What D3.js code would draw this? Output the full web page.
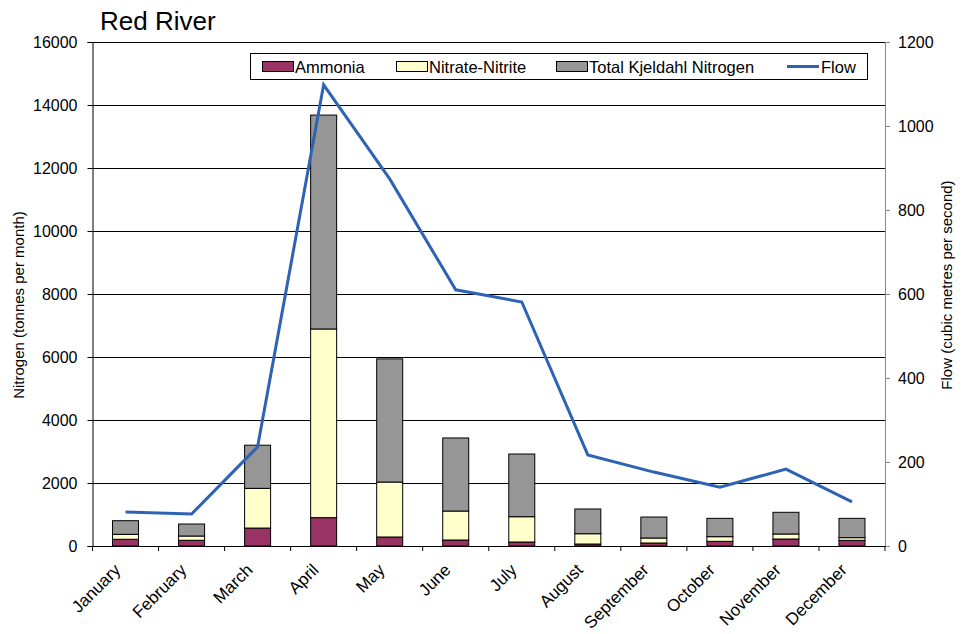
<!DOCTYPE html>
<html><head><meta charset="utf-8">
<script src="https://cdn.jsdelivr.net/npm/d3@7"></script>
<style>body{margin:0;background:#fff}svg{display:block;font-family:"Liberation Sans",Arial,sans-serif}</style>
</head><body><svg id="c" width="962" height="634"></svg>
<script>
const months = ["January","February","March","April","May","June","July","August","September","October","November","December"];
const ammonia = [213,181,570,900,286,190,127,63,95,148,222,180];
const nitrate = [158,136,1260,5990,1744,920,803,327,159,148,159,85];
const tkn = [432,381,1370,6790,3910,2320,1990,785,666,582,689,613];
const flow = [81,76,236,1098,874,610,581,217,176,140,183,105];
const leftTicks = [0,2000,4000,6000,8000,10000,12000,14000,16000];
const rightTicks = [0,200,400,600,800,1000,1200];
const seriesNames = ["Ammonia","Nitrate-Nitrite","Total Kjeldahl Nitrogen"];
const colors = ["#993366","#FFFFCC","#969696"];

const svg = d3.select("#c");
const L = 92.5, R = 885, T = 42, B = 546;
const x = d3.scaleBand().domain(months).range([L, R]);
const y = d3.scaleLinear().domain([0,16000]).range([B, T]);
const y2 = d3.scaleLinear().domain([0,1200]).range([B, T]);

// gridlines
svg.append("g").selectAll("line").data(leftTicks.slice(1)).join("line")
  .attr("x1", L).attr("x2", R).attr("y1", d => Math.round(y(d))+0.5).attr("y2", d => Math.round(y(d))+0.5)
  .attr("stroke", "#000").attr("stroke-width", 1);

// stacked bars
const rows = months.map((m,i)=>({m, a:ammonia[i], n:nitrate[i], t:tkn[i]}));
const stack = d3.stack().keys(["a","n","t"])(rows);
const bw = 26;
svg.append("g").selectAll("g").data(stack).join("g")
  .attr("fill", (d,i)=>colors[i])
  .selectAll("rect").data(d=>d).join("rect")
  .attr("x", d => x(d.data.m) + x.bandwidth()/2 - bw/2)
  .attr("width", bw)
  .attr("y", d => y(d[1]))
  .attr("height", d => y(d[0]) - y(d[1]))
  .attr("stroke", "#000").attr("stroke-width", 1);

// left axis
const ga = svg.append("g").attr("transform", `translate(${L},0)`)
  .call(d3.axisLeft(y).tickValues(leftTicks).tickSize(5).tickPadding(10).tickFormat(d3.format("d")));
ga.select(".domain").attr("stroke","#000");
ga.selectAll("text").attr("font-size", 16).attr("fill","#000").attr("font-family","Liberation Sans, Arial, sans-serif");

// right axis
const gr = svg.append("g").attr("transform", `translate(${R},0)`)
  .call(d3.axisRight(y2).tickValues(rightTicks).tickSize(5).tickPadding(8).tickFormat(d3.format("d")));
gr.select(".domain").attr("stroke","#888");
gr.selectAll(".tick line").attr("stroke","#888");
gr.selectAll("text").attr("font-size", 16).attr("fill","#000").attr("font-family","Liberation Sans, Arial, sans-serif");

// bottom axis
const gb = svg.append("g").attr("transform", `translate(0,${B})`)
  .call(d3.axisBottom(x).tickSize(0).tickFormat(""));
gb.select(".domain").attr("stroke","#000");
svg.append("g").selectAll("line").data(months.concat(["_end"])).join("line")
  .attr("x1", (d,i)=> L + i*x.bandwidth()).attr("x2",(d,i)=> L + i*x.bandwidth())
  .attr("y1", B).attr("y2", B+5).attr("stroke","#000");
svg.append("g").selectAll("text").data(months).join("text")
  .attr("transform", d => `translate(${x(d)+x.bandwidth()/2-4},${B+25}) rotate(-45)`)
  .attr("text-anchor","end").attr("font-size",17).attr("fill","#000").text(d=>d);

// flow line
svg.append("path").datum(flow)
  .attr("d", d3.line().x((d,i)=>x(months[i])+x.bandwidth()/2).y(d=>y2(d)))
  .attr("fill","none").attr("stroke","#2E62B5").attr("stroke-width",3).attr("stroke-linejoin","miter");

// titles
svg.append("text").attr("x",100).attr("y",30).attr("font-size",26).text("Red River");
svg.append("text").attr("transform","translate(24,305) rotate(-90)").attr("text-anchor","middle")
  .attr("font-size",15).text("Nitrogen (tonnes per month)");
svg.append("text").attr("transform","translate(952,285) rotate(-90)").attr("text-anchor","middle")
  .attr("font-size",15).text("Flow (cubic metres per second)");

// legend
const lg = svg.append("g");
lg.append("rect").attr("x",250.5).attr("y",53.5).attr("width",617).attr("height",26).attr("fill","#fff").attr("stroke","#000");
const sw = [262,396,556];
seriesNames.forEach((n,i)=>{
  lg.append("rect").attr("x",sw[i]+0.5).attr("y",61.5).attr("width",31).attr("height",10).attr("fill",colors[i]).attr("stroke","#000");
  lg.append("text").attr("x",sw[i]+33).attr("y",72.5).attr("font-size",16.5).text(n);
});
lg.append("line").attr("x1",787).attr("x2",819).attr("y1",66.5).attr("y2",66.5).attr("stroke","#2E62B5").attr("stroke-width",3);
lg.append("text").attr("x",821).attr("y",72.5).attr("font-size",16.5).text("Flow");
</script></body></html>
